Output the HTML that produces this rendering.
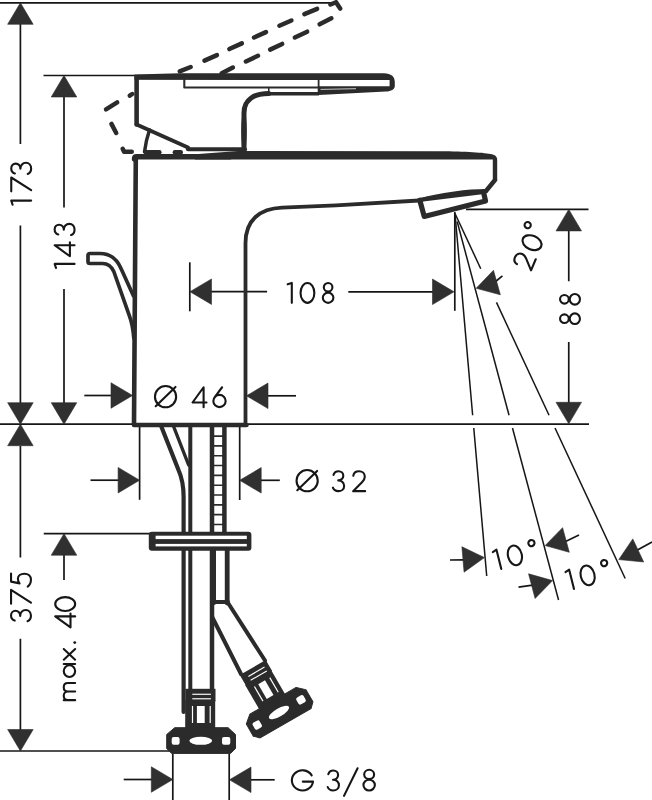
<!DOCTYPE html>
<html><head><meta charset="utf-8"><style>
html,body{margin:0;padding:0;background:#fff;}
svg{display:block}
.t{font-family:"Liberation Sans",sans-serif;fill:#2b2b2b;}
.ar{fill:#303030;stroke:#2b2b2b;stroke-width:0.6;stroke-linejoin:round}
</style></head><body>
<svg width="652" height="800" viewBox="0 0 652 800">
<g stroke="#161616" fill="none" stroke-linecap="butt">
<line x1="0" y1="2.8" x2="335" y2="2.8" stroke-width="1.7"/>
<line x1="20.4" y1="24" x2="20.4" y2="144" stroke-width="1.7"/>
<line x1="20.4" y1="225.5" x2="20.4" y2="403" stroke-width="1.7"/>
<line x1="43.5" y1="75.5" x2="136" y2="75.5" stroke-width="1.7"/>
<line x1="64" y1="97" x2="64" y2="207.5" stroke-width="1.7"/>
<line x1="64" y1="289" x2="64" y2="403" stroke-width="1.7"/>
<line x1="0" y1="424.2" x2="133" y2="424.2" stroke-width="1.7"/>
<line x1="246" y1="424.1" x2="589" y2="424.1" stroke-width="1.7"/>
<line x1="20.4" y1="446" x2="20.4" y2="557.5" stroke-width="1.7"/>
<line x1="20.4" y1="638.75" x2="20.4" y2="730" stroke-width="1.7"/>
<line x1="0" y1="751" x2="170" y2="751" stroke-width="1.7"/>
<line x1="43.75" y1="533.7" x2="150" y2="533.7" stroke-width="1.7"/>
<line x1="64" y1="555" x2="64" y2="580" stroke-width="1.7"/>
<line x1="84.3" y1="395.5" x2="113" y2="395.5" stroke-width="1.7"/>
<line x1="267" y1="395.8" x2="296" y2="395.8" stroke-width="1.7"/>
<line x1="189.8" y1="262.3" x2="189.8" y2="311.3" stroke-width="1.7"/>
<line x1="211" y1="291.7" x2="267.1" y2="291.7" stroke-width="1.7"/>
<line x1="348.3" y1="291.8" x2="434" y2="291.8" stroke-width="1.7"/>
<line x1="454.8" y1="212" x2="454.8" y2="310.8" stroke-width="1.7"/>
<line x1="139.6" y1="427" x2="139.6" y2="499.8" stroke-width="1.7"/>
<line x1="239.7" y1="427" x2="239.7" y2="500" stroke-width="1.7"/>
<line x1="90.5" y1="480.2" x2="119" y2="480.2" stroke-width="1.7"/>
<line x1="261" y1="480.3" x2="279.8" y2="480.3" stroke-width="1.7"/>
<line x1="172.8" y1="753.5" x2="172.8" y2="800" stroke-width="1.7"/>
<line x1="229.2" y1="753.5" x2="229.2" y2="800" stroke-width="1.7"/>
<line x1="123.7" y1="779.5" x2="152" y2="779.5" stroke-width="1.7"/>
<line x1="250" y1="779.8" x2="274.7" y2="779.8" stroke-width="1.7"/>
<line x1="466" y1="209.4" x2="588.5" y2="209.4" stroke-width="1.7"/>
<line x1="568.75" y1="231" x2="568.75" y2="281.25" stroke-width="1.7"/>
<line x1="568.75" y1="342" x2="568.75" y2="403" stroke-width="1.7"/>
<line x1="455.0" y1="213.5" x2="472.6464634331789" y2="415.2" stroke-width="1.5"/>
<line x1="473.7663183263107" y1="428" x2="486.71464052814747" y2="576" stroke-width="1.5"/>
<line x1="457.143593539449" y1="221.5" x2="509.04535211335747" y2="415.2" stroke-width="1.5"/>
<line x1="512.4751017764759" y1="428" x2="558.5623628746289" y2="600" stroke-width="1.5"/>
<line x1="455.0" y1="213.5" x2="480.74018273015594" y2="268.7" stroke-width="1.5"/>
<line x1="496.4547508099794" y1="302.4" x2="549.0542546498632" y2="415.2" stroke-width="1.5"/>
<line x1="555.0229926742472" y1="428" x2="625.2022952265745" y2="578.5" stroke-width="1.5"/>
<line x1="495" y1="282" x2="502.4" y2="275.9" stroke-width="1.7"/>
<line x1="450" y1="560" x2="463.5" y2="559.8" stroke-width="1.7"/>
<line x1="564.5" y1="542" x2="579" y2="535" stroke-width="1.7"/>
<line x1="518.5" y1="587.1" x2="532.7" y2="585.2" stroke-width="1.7"/>
<line x1="632" y1="553" x2="652" y2="542" stroke-width="1.7"/>
</g>
<polygon class="ar" points="20.40,2.80 33.15,24.30 7.65,24.30"/>
<polygon class="ar" points="64.00,75.50 76.75,97.00 51.25,97.00"/>
<polygon class="ar" points="20.40,424.20 7.65,402.70 33.15,402.70"/>
<polygon class="ar" points="20.40,424.20 33.15,445.70 7.65,445.70"/>
<polygon class="ar" points="64.00,424.20 51.25,402.70 76.75,402.70"/>
<polygon class="ar" points="64.00,533.70 76.75,555.20 51.25,555.20"/>
<polygon class="ar" points="20.40,751.00 7.65,729.50 33.15,729.50"/>
<polygon class="ar" points="132.50,395.50 111.00,408.25 111.00,382.75"/>
<polygon class="ar" points="246.50,395.80 268.00,383.05 268.00,408.55"/>
<polygon class="ar" points="190.00,291.70 211.50,278.95 211.50,304.45"/>
<polygon class="ar" points="454.00,291.80 432.50,304.55 432.50,279.05"/>
<polygon class="ar" points="139.60,480.20 118.10,492.95 118.10,467.45"/>
<polygon class="ar" points="239.70,480.30 261.20,467.55 261.20,493.05"/>
<polygon class="ar" points="172.80,779.50 151.30,792.25 151.30,766.75"/>
<polygon class="ar" points="229.50,779.80 251.00,767.05 251.00,792.55"/>
<polygon class="ar" points="568.75,209.40 581.50,230.90 556.00,230.90"/>
<polygon class="ar" points="568.75,423.80 556.00,402.30 581.50,402.30"/>
<polygon class="ar" points="476.20,288.30 493.48,270.24 500.34,294.80"/>
<polygon class="ar" points="484.40,557.60 464.07,572.14 461.89,546.73"/>
<polygon class="ar" points="545.20,545.60 562.60,527.66 569.29,552.27"/>
<polygon class="ar" points="552.60,580.60 535.10,598.45 528.54,573.81"/>
<polygon class="ar" points="618.80,559.60 632.79,538.88 643.69,561.94"/>
<g stroke="#2b2b2b" fill="none" stroke-linejoin="round" stroke-linecap="round">
<path d="M106.01,109.41 L117.19,102.44" stroke-width="4.5"/>
<path d="M129.77,95.65 L132.23,94.00" stroke-width="4.5"/>
<path d="M179.70,71.29 L190.70,67.01" stroke-width="4.5"/>
<path d="M204.46,60.59 L216.94,55.11" stroke-width="4.5"/>
<path d="M229.35,49.06 L241.85,43.34" stroke-width="4.5"/>
<path d="M254.05,37.48 L265.95,32.12" stroke-width="4.5"/>
<path d="M279.37,25.71 L291.43,20.49" stroke-width="4.5"/>
<path d="M304.38,14.14 L317.12,8.91" stroke-width="4.5"/>
<path d="M330.47,4.53 L336.00,2.20 L340.16,8.52" stroke-width="4.5"/>
<path d="M221.71,73.19 L232.89,67.61" stroke-width="4.5"/>
<path d="M245.93,61.44 L257.97,55.76" stroke-width="4.5"/>
<path d="M270.13,49.64 L282.17,43.96" stroke-width="4.5"/>
<path d="M294.83,37.53 L307.17,31.67" stroke-width="4.5"/>
<path d="M319.61,24.28 L331.39,18.32" stroke-width="4.5"/>
<path d="M111.44,123.89 L116.21,133.01" stroke-width="4.5"/>
<path d="M122.66,148.74 L124.10,151.80 L131.75,151.80" stroke-width="4.5"/>
<path d="M146.05,152.20 L159.35,152.20" stroke-width="4.5"/>
<path d="M174.85,152.20 L180.75,152.20" stroke-width="4.5"/>
<path d="M136.6,124.5 L136.6,77 L386,77" stroke-width="4.6"/>
<path d="M134.5,74.6 L180,73.3 L384,73.3 C391,73.5 394.8,76.5 394.8,82 L394.8,86 C394.8,89.5 391,91.3 386,91.6 L318.6,94.9 L318.6,86.2 L389.6,86.2 L389.6,80 L134.5,79.8 Z" fill="#2b2b2b" stroke="none"/>
<path d="M320.5,89.4 L356,88.7" stroke="#fff" stroke-width="1" stroke-linecap="butt" opacity="0.75"/>
<path d="M184.3,78 L184.3,87.5 L319,87.5" stroke-width="2.1"/>
<path d="M318.6,80 L318.6,94" stroke-width="1.8"/>
<path d="M268,93.8 L319,93.8" stroke-width="3.4" stroke-linecap="butt"/>
<path d="M268.75,87.5 L268.75,93" stroke-width="1.5"/>
<path d="M136.6,124.5 L188,147.5" stroke-width="4"/>
<path d="M188,149.3 L245,149.3" stroke-width="4"/>
<path d="M268.75,93.5 C255,93.5 244,99 244,113 L244,150" stroke-width="5"/>
<path d="M244,118 Q242.6,130 244,146 Q245.4,130 244,118 Z" stroke-width="4.2" fill="#2b2b2b"/>
<path d="M149.5,130 Q146,140 144.5,152" stroke-width="3.5"/>
<path d="M195,154.2 L238,151 L440,151.2 C465,151.4 485,152.5 492,154.3 C496,155.5 497.2,157 497.2,160 L497.2,181 L492.8,181 L492.8,159.4 L195,159.4 Z" fill="#2b2b2b" stroke="none"/>
<path d="M134.5,159 Q134.5,156.8 136.5,156.8 L230,156.8" stroke-width="5.4"/>
<path d="M495,180 L486,191" stroke-width="4.4"/>
<path d="M486,191 C470,191 440,194 419,200.5 L336,205.3 L282,207.6 C260,208.5 245.5,220 245.5,243 L245.5,424.5" stroke-width="3.8"/>
<path d="M419.8,200.2 L424.2,216.4 L485.5,200.9 L483.5,192" stroke-width="5.2"/>
<path d="M421,199.8 L482,192.2" stroke-width="4"/>
<path d="M135.8,157 L134,425 L246.5,425" stroke-width="4.6" stroke-linejoin="round"/>
<path d="M133.5,296 L121.25,269 C117,259 110,253.5 100,253.5 L90,253.5 Q88,253.5 88,255.5 L88,261.5 Q88,263.5 90,263.5 L102.5,263.5 C107.5,263.5 111.5,266.5 113.8,271.5 L129.5,316.2 Q132.8,325 133.8,338" stroke-width="3.7"/>
<path d="M161.5,427 L178.5,470 Q184,482 183.6,500 L183.6,712" stroke-width="4.2"/>
<path d="M173.8,427 L188.6,465" stroke-width="3.4"/>
<path d="M190.3,427 L190.3,690" stroke-width="4"/>
<path d="M212,427 L212,690" stroke-width="4.5"/>
<path d="M224.4,427 L224.4,532" stroke-width="4.5"/>
<path d="M227.2,550 L227.2,603" stroke-width="4.8"/>
<path d="M214,550 L214,603" stroke-width="4"/>
<path d="M212,602 L228,602" stroke-width="4"/>
<path d="M212,436.10 L224.4,436.10 M212,445.92 L224.4,445.92 M212,455.74 L224.4,455.74 M212,465.56 L224.4,465.56 M212,475.38 L224.4,475.38 M212,485.20 L224.4,485.20 M212,495.02 L224.4,495.02 M212,504.84 L224.4,504.84 M212,514.66 L224.4,514.66 M212,524.48 L224.4,524.48 " stroke-width="1.6"/>
<path d="M212.2,617 L241,674" stroke-width="4"/>
<path d="M228.1,603 L265,660.5" stroke-width="4"/>
</g>
<rect x="148.8" y="531.8" width="102.6" height="19" rx="3" fill="#2b2b2b"/>
<rect x="155.6" y="535.7" width="91.2" height="3.4" fill="#fff"/>
<rect x="155.6" y="543.9" width="91.2" height="2.5" fill="#fff"/>
<rect x="185.5" y="688.8" width="30" height="12.5" fill="#2b2b2b"/><rect x="192.3" y="693.7" width="18.6" height="1.15" fill="#fff"/><rect x="192.3" y="698.2" width="18.6" height="1.15" fill="#fff"/><rect x="185.2" y="700" width="30" height="29" fill="#2b2b2b"/><rect x="196.9" y="706" width="7.8" height="17" fill="#fff"/><rect x="191.9" y="706" width="1.2" height="17" fill="#fff"/><rect x="209.6" y="706" width="1.2" height="17" fill="#fff"/><path d="M174.7,727.7 L228.1,727.7 L235.5,734.5 L235.5,748.5 L230.5,753.4 L171.7,753.4 L166.7,748.5 L166.7,734.5 Z" fill="#2b2b2b" stroke="#2b2b2b" stroke-width="1" stroke-linejoin="round"/><rect x="171.7" y="736.9" width="7.9" height="7.9" rx="2" fill="#fff"/><rect x="222" y="736.9" width="8.3" height="7.9" rx="2" fill="#fff"/><ellipse cx="200.75" cy="740.85" rx="11.4" ry="4" fill="#fff"/>
<g transform="translate(279,712.5) rotate(-30) translate(-200.75,-740.85)"><rect x="185.5" y="688.8" width="30" height="12.5" fill="#2b2b2b"/><rect x="192.3" y="693.7" width="18.6" height="1.15" fill="#fff"/><rect x="192.3" y="698.2" width="18.6" height="1.15" fill="#fff"/><rect x="185.2" y="700" width="30" height="29" fill="#2b2b2b"/><rect x="196.9" y="706" width="7.8" height="17" fill="#fff"/><rect x="191.9" y="706" width="1.2" height="17" fill="#fff"/><rect x="209.6" y="706" width="1.2" height="17" fill="#fff"/><path d="M174.7,727.7 L228.1,727.7 L235.5,734.5 L235.5,748.5 L230.5,753.4 L171.7,753.4 L166.7,748.5 L166.7,734.5 Z" fill="#2b2b2b" stroke="#2b2b2b" stroke-width="1" stroke-linejoin="round"/><rect x="171.7" y="736.9" width="7.9" height="7.9" rx="2" fill="#fff"/><rect x="222" y="736.9" width="8.3" height="7.9" rx="2" fill="#fff"/><ellipse cx="200.75" cy="740.85" rx="11.4" ry="4" fill="#fff"/></g>
<g transform="translate(153.9 408.2)" fill="none" stroke="#161616" stroke-width="2.1" stroke-linecap="round" stroke-linejoin="round"><path transform="translate(0 0)" d="M1.05,-11.55 A10.6,10.6 0 1 0 22.25,-11.55 A10.6,10.6 0 1 0 1.05,-11.55 Z M1.8,-2 L21.6,-21.3"/><path transform="translate(37.6 0)" d="M12.1,-1.05 L12.1,-20.95 L1.05,-5.7 L15,-5.7"/><path transform="translate(58.4 0)" d="M9.8,-20.95 L2.28,-10.88 M1.05,-7.20 A6.15,6.15 0 1 0 13.35,-7.20 A6.15,6.15 0 1 0 1.05,-7.20 Z"/></g>
<g transform="translate(286.6 303.9)" fill="none" stroke="#161616" stroke-width="2.1" stroke-linecap="round" stroke-linejoin="round"><path transform="translate(0 0)" d="M1.05,-19.6 L5.2,-20.95 L5.2,-1.05"/><path transform="translate(12.9 0)" d="M1.05,-11.00 A6.9,9.95 0 1 0 14.85,-11.00 A6.9,9.95 0 1 0 1.05,-11.00 Z"/><path transform="translate(35.2 0)" d="M2.00,-16.60 A4.3,4.35 0 1 0 10.60,-16.60 A4.3,4.35 0 1 0 2.00,-16.60 Z M1.00,-6.15 A5.3,5.1 0 1 0 11.60,-6.15 A5.3,5.1 0 1 0 1.00,-6.15 Z"/></g>
<g transform="translate(295.5 492.2)" fill="none" stroke="#161616" stroke-width="2.1" stroke-linecap="round" stroke-linejoin="round"><path transform="translate(0 0)" d="M1.05,-11.55 A10.6,10.6 0 1 0 22.25,-11.55 A10.6,10.6 0 1 0 1.05,-11.55 Z M1.8,-2 L21.6,-21.3"/><path transform="translate(36.5 0)" d="M1.5,-17.3 C2.2,-19.6 4.2,-20.95 6.5,-20.95 C9.3,-20.95 11.3,-19.1 11.3,-16.5 C11.3,-13.7 9.2,-11.8 6.2,-11.8 C9.6,-11.8 12.15,-9.4 12.15,-6.3 C12.15,-3.2 9.6,-1.05 6.3,-1.05 C3.7,-1.05 1.7,-2.3 0.9,-4.5"/><path transform="translate(56.6 0)" d="M1.2,-16.4 C1.6,-19.3 3.9,-20.95 6.9,-20.95 C10.3,-20.95 12.7,-18.6 12.7,-15.5 C12.7,-13.3 11.6,-11.8 10.1,-10.3 L1.05,-1.05 L13.05,-1.05"/></g>
<g transform="translate(290.8 791.5)" fill="none" stroke="#161616" stroke-width="2.1" stroke-linecap="round" stroke-linejoin="round"><path transform="translate(0 0)" d="M20.9,-16.1 A10.6,10.1 0 1 0 22.2,-9.9 L12,-9.9"/><path transform="translate(36 0)" d="M1.5,-17.3 C2.2,-19.6 4.2,-20.95 6.5,-20.95 C9.3,-20.95 11.3,-19.1 11.3,-16.5 C11.3,-13.7 9.2,-11.8 6.2,-11.8 C9.6,-11.8 12.15,-9.4 12.15,-6.3 C12.15,-3.2 9.6,-1.05 6.3,-1.05 C3.7,-1.05 1.7,-2.3 0.9,-4.5"/><path transform="translate(52.9 0)" d="M0.3,4.4 L13.9,-23.2"/><path transform="translate(71.6 0)" d="M1.80,-17.05 A4.95,4.65 0 1 0 11.70,-17.05 A4.95,4.65 0 1 0 1.80,-17.05 Z M1.05,-6.40 A5.7,5.35 0 1 0 12.45,-6.40 A5.7,5.35 0 1 0 1.05,-6.40 Z"/></g>
<g transform="translate(32.2 205.8) rotate(-90)" fill="none" stroke="#161616" stroke-width="2.1" stroke-linecap="round" stroke-linejoin="round"><path transform="translate(0 0)" d="M1.05,-19.6 L5.2,-20.95 L5.2,-1.05"/><path transform="translate(13.4 0)" d="M1.05,-20.95 L14.9,-20.95 L2.2,-1.05"/><path transform="translate(30.9 0)" d="M1.5,-17.3 C2.2,-19.6 4.2,-20.95 6.5,-20.95 C9.3,-20.95 11.3,-19.1 11.3,-16.5 C11.3,-13.7 9.2,-11.8 6.2,-11.8 C9.6,-11.8 12.15,-9.4 12.15,-6.3 C12.15,-3.2 9.6,-1.05 6.3,-1.05 C3.7,-1.05 1.7,-2.3 0.9,-4.5"/></g>
<g transform="translate(75.6 269.1) rotate(-90)" fill="none" stroke="#161616" stroke-width="2.1" stroke-linecap="round" stroke-linejoin="round"><path transform="translate(0 0)" d="M1.05,-19.6 L5.2,-20.95 L5.2,-1.05"/><path transform="translate(11.8 0)" d="M12.1,-1.05 L12.1,-20.95 L1.05,-5.7 L15,-5.7"/><path transform="translate(33.1 0)" d="M1.5,-17.3 C2.2,-19.6 4.2,-20.95 6.5,-20.95 C9.3,-20.95 11.3,-19.1 11.3,-16.5 C11.3,-13.7 9.2,-11.8 6.2,-11.8 C9.6,-11.8 12.15,-9.4 12.15,-6.3 C12.15,-3.2 9.6,-1.05 6.3,-1.05 C3.7,-1.05 1.7,-2.3 0.9,-4.5"/></g>
<g transform="translate(32 622.1) rotate(-90)" fill="none" stroke="#161616" stroke-width="2.1" stroke-linecap="round" stroke-linejoin="round"><path transform="translate(0 0)" d="M1.5,-17.3 C2.2,-19.6 4.2,-20.95 6.5,-20.95 C9.3,-20.95 11.3,-19.1 11.3,-16.5 C11.3,-13.7 9.2,-11.8 6.2,-11.8 C9.6,-11.8 12.15,-9.4 12.15,-6.3 C12.15,-3.2 9.6,-1.05 6.3,-1.05 C3.7,-1.05 1.7,-2.3 0.9,-4.5"/><path transform="translate(17.3 0)" d="M1.05,-20.95 L14.9,-20.95 L2.2,-1.05"/><path transform="translate(34.3 0)" d="M14.2,-20.95 L6.2,-20.95 L4.4,-12.4 C5.7,-13.5 7.3,-14.1 9,-14.1 C12,-14.1 14.1,-11.4 14.1,-7.6 C14.1,-3.7 11.6,-1.05 8.2,-1.05 C5.2,-1.05 2.6,-2.3 1.1,-4.3"/></g>
<g transform="translate(76.2 701.2) rotate(-90)" fill="none" stroke="#161616" stroke-width="2.1" stroke-linecap="round" stroke-linejoin="round"><path transform="translate(0 0)" d="M1.05,-1.05 L1.05,-12.45 M1.05,-8.3 C1.05,-10.9 2.9,-12.45 5.35,-12.45 C7.8,-12.45 9.65,-10.9 9.65,-8.3 L9.65,-1.05 M9.65,-8.3 C9.65,-10.9 11.5,-12.45 13.95,-12.45 C16.4,-12.45 18.25,-10.9 18.25,-8.3 L18.25,-1.05"/><path transform="translate(23.2 0)" d="M1.05,-6.75 A5.85,5.7 0 1 0 12.75,-6.75 A5.85,5.7 0 1 0 1.05,-6.75 Z M13.95,-12.45 L13.95,-1.05"/><path transform="translate(40.5 0)" d="M1.05,-12.45 L11.65,-1.05 M11.65,-12.45 L1.05,-1.05"/><circle cx="58.6" cy="-1.45" r="1.45" fill="#161616" stroke="none"/><path transform="translate(72.7 0)" d="M12.1,-1.05 L12.1,-20.95 L1.05,-5.7 L15,-5.7"/><path transform="translate(89.2 0)" d="M1.05,-11.00 A6.9,9.95 0 1 0 14.85,-11.00 A6.9,9.95 0 1 0 1.05,-11.00 Z"/></g>
<g transform="translate(581 325) rotate(-90)" fill="none" stroke="#161616" stroke-width="2.1" stroke-linecap="round" stroke-linejoin="round"><path transform="translate(0 0)" d="M2.00,-16.60 A4.3,4.35 0 1 0 10.60,-16.60 A4.3,4.35 0 1 0 2.00,-16.60 Z M1.00,-6.15 A5.3,5.1 0 1 0 11.60,-6.15 A5.3,5.1 0 1 0 1.00,-6.15 Z"/><path transform="translate(19.4 0)" d="M2.00,-16.60 A4.3,4.35 0 1 0 10.60,-16.60 A4.3,4.35 0 1 0 2.00,-16.60 Z M1.00,-6.15 A5.3,5.1 0 1 0 11.60,-6.15 A5.3,5.1 0 1 0 1.00,-6.15 Z"/></g>
<g transform="translate(531.6 271.7) rotate(-67)" fill="none" stroke="#161616" stroke-width="2.1" stroke-linecap="round" stroke-linejoin="round"><path transform="translate(0 0)" d="M1.2,-16.4 C1.6,-19.3 3.9,-20.95 6.9,-20.95 C10.3,-20.95 12.7,-18.6 12.7,-15.5 C12.7,-13.3 11.6,-11.8 10.1,-10.3 L1.05,-1.05 L13.05,-1.05"/><path transform="translate(18.95 0)" d="M1.05,-11.00 A6.9,9.95 0 1 0 14.85,-11.00 A6.9,9.95 0 1 0 1.05,-11.00 Z"/><circle cx="41.3" cy="-21.8" r="3.1"/></g>
<g transform="translate(496.5 571.3) rotate(-14)" fill="none" stroke="#161616" stroke-width="2.1" stroke-linecap="round" stroke-linejoin="round"><path transform="translate(0 0)" d="M1.05,-19.6 L5.2,-20.95 L5.2,-1.05"/><path transform="translate(13.75 0)" d="M1.05,-11.00 A6.9,9.95 0 1 0 14.85,-11.00 A6.9,9.95 0 1 0 1.05,-11.00 Z"/><circle cx="40.7" cy="-18.9" r="3.1"/></g>
<g transform="translate(569.2 591.3) rotate(-14)" fill="none" stroke="#161616" stroke-width="2.1" stroke-linecap="round" stroke-linejoin="round"><path transform="translate(0 0)" d="M1.05,-19.6 L5.2,-20.95 L5.2,-1.05"/><path transform="translate(13.75 0)" d="M1.05,-11.00 A6.9,9.95 0 1 0 14.85,-11.00 A6.9,9.95 0 1 0 1.05,-11.00 Z"/><circle cx="40.7" cy="-18.9" r="3.1"/></g>
</svg>
</body></html>
